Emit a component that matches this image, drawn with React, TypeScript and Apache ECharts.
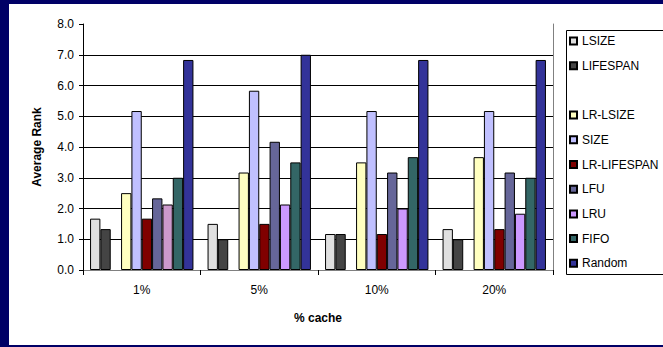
import React, { useEffect, useRef } from "react";
import * as echarts from "echarts";

const categories = ["1%", "5%", "10%", "20%"];
const seriesNames = ["LSIZE", "LIFESPAN", " ", "LR-LSIZE", "SIZE", "LR-LIFESPAN", "LFU", "LRU", "FIFO", "Random"];
const lsize = [1.67, 1.5, 1.17, 1.33];
const lifespan = [1.33, 1.0, 1.17, 1.0];
const blank = ["-", "-", "-", "-"];
const lrLsize = [2.5, 3.17, 3.5, 3.67];
const size = [5.17, 5.83, 5.17, 5.17];
const lrLifespan = [1.67, 1.5, 1.17, 1.33];
const lfu = [2.33, 4.17, 3.17, 3.17];
const lru = [2.13, 2.13, 2.0, 1.83];
const fifo = [3.0, 3.5, 3.67, 3.0];
const random = [6.83, 7.0, 6.83, 6.83];

const seriesData = [lsize, lifespan, blank, lrLsize, size, lrLifespan, lfu, lru, fifo, random];
const colors = ["#E0E0E0", "#444444", "rgba(0,0,0,0)", "#FFFFC0", "#C0C0FF", "#800000", "#666699", "#CC99FF", "#336666", "#333399"];
const lruFirstColor = "#CC99CC";

const FONT = "Liberation Sans, Arial, sans-serif";

export default function App() {
  const ref = useRef<HTMLDivElement>(null);
  useEffect(() => {
    if (!ref.current) return;
    const chart = echarts.init(ref.current, null, { renderer: "svg" });
    const series = seriesNames.map((name, i) => ({
      name,
      type: "bar",
      xAxisIndex: 0,
      yAxisIndex: 0,
      barGap: "0%",
      barCategoryGap: "12%",
      data: seriesData[i].map((v, j) =>
        name === "LRU" && j === 0 ? { value: v, itemStyle: { color: lruFirstColor } } : v
      ),
      itemStyle: {
        color: colors[i],
        borderColor: name === " " ? "rgba(0,0,0,0)" : "#000",
        borderWidth: name === " " ? 0 : 1,
      },
    }));
    chart.setOption({
      animation: false,
      backgroundColor: "transparent",
      textStyle: { fontFamily: FONT },
      graphic: [
        { type: "rect", z: -50, shape: { x: 557.5, y: 26.5, width: 120, height: 244 }, style: { fill: "#fff", stroke: "#000", lineWidth: 1 } },
      ],
      grid: { left: 74, top: 20, width: 470, height: 246, containLabel: false },
      legend: {
        orient: "vertical",
        left: 560,
        top: 30,
        padding: 0,
        itemWidth: 7,
        itemHeight: 7,
        itemGap: 10.7,
        icon: "rect",
        data: seriesNames,
        textStyle: { fontSize: 12, lineHeight: 14, color: "#000", fontFamily: FONT },
      },
      xAxis: [
        {
          type: "category",
          data: categories,
          position: "bottom",
          name: "% cache",
          nameLocation: "middle",
          nameGap: 42,
          nameTextStyle: { fontSize: 12, fontWeight: "bold", color: "#000", fontFamily: FONT },
          axisLine: { lineStyle: { color: "#000", width: 1 } },
          axisTick: { show: true, length: 5, alignWithLabel: false, lineStyle: { color: "#000" } },
          axisLabel: { fontSize: 12, color: "#000", margin: 14, fontFamily: FONT },
          splitLine: { show: false },
        },
        {
          type: "category",
          data: categories,
          position: "top",
          axisLine: { lineStyle: { color: "#808080", width: 1 } },
          axisTick: { show: false },
          axisLabel: { show: false },
          splitLine: { show: false },
        },
      ],
      yAxis: [
        {
          type: "value",
          min: 0,
          max: 8,
          interval: 1,
          name: "Average Rank",
          nameLocation: "middle",
          nameGap: 40,
          nameTextStyle: { fontSize: 12, fontWeight: "bold", color: "#000", fontFamily: FONT },
          axisLine: { show: true, lineStyle: { color: "#000", width: 1 } },
          axisTick: { show: true, length: 4, lineStyle: { color: "#000" } },
          axisLabel: { fontSize: 12, color: "#000", margin: 9, fontFamily: FONT, formatter: (v: number) => v.toFixed(1) },
          splitLine: { show: true, showMaxLine: false, lineStyle: { color: "#000", width: 1 } },
        },
        {
          type: "value",
          min: 0,
          max: 8,
          interval: 1,
          position: "right",
          axisLine: { show: true, lineStyle: { color: "#808080", width: 1 } },
          axisTick: { show: false },
          axisLabel: { show: false },
          splitLine: { show: false },
        },
      ],
      series,
    });
    return () => chart.dispose();
  }, []);
  return (
    <div style={{ position: "fixed", left: 0, top: 0, width: "100vw", height: "100vh", background: "#000066", overflow: "hidden" }}>
      <div style={{ position: "absolute", left: 9, top: 4, right: -40, bottom: 2, background: "#fff" }} />
      <div
        ref={ref}
        style={{ position: "absolute", left: 9, top: 4, width: 654, height: 341 }}
      />
    </div>
  );
}
